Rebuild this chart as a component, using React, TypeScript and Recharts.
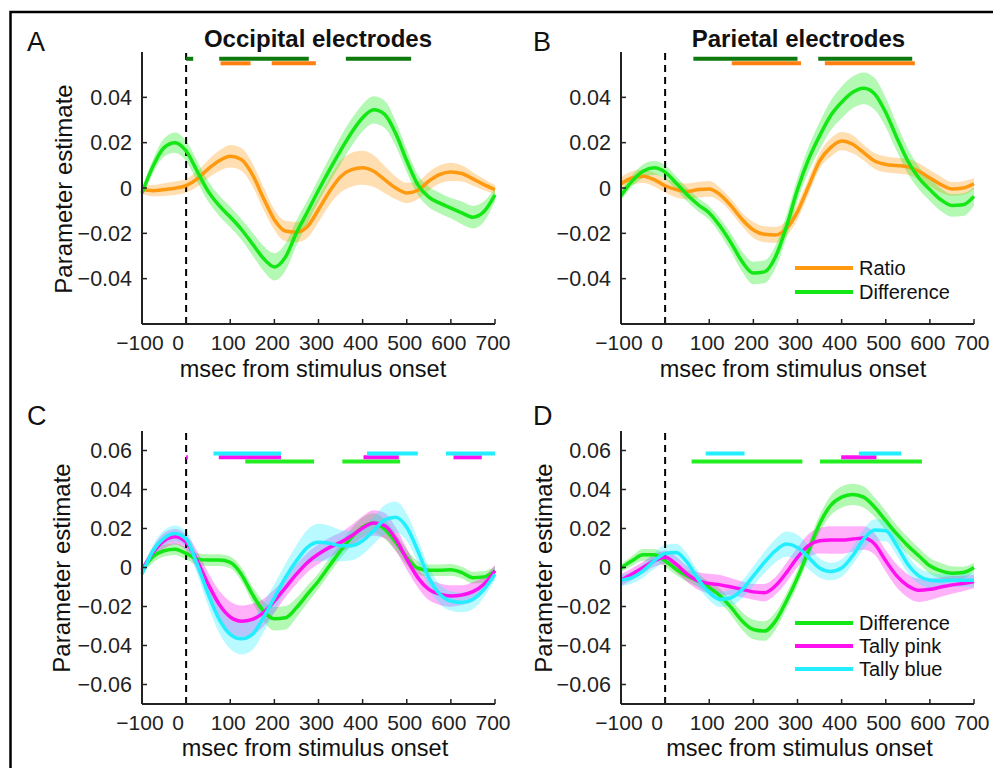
import { ComposedChart, Area, Line, XAxis, YAxis, ReferenceLine, Legend } from "recharts";

// time points (msec from stimulus onset)
const TIMES = [-100, -75, -50, -25, 0, 25, 50, 75, 100, 125, 150, 175, 200, 225, 250, 275, 300, 325, 350, 375, 400, 425, 450, 475, 500, 525, 550, 575, 600, 625, 650, 675, 700];
const X_TICKS = [-100, 0, 100, 200, 300, 400, 500, 600, 700];
const Y_TICKS_TOP = [-0.04, -0.02, 0, 0.02, 0.04];
const Y_TICKS_BOTTOM = [-0.06, -0.04, -0.02, 0, 0.02, 0.04, 0.06];

// A: occipital, ratio vs difference
const occRatio = [-0.0007, -0.0012, -0.0007, -0.0001, 0.001, 0.004, 0.0084, 0.012, 0.014, 0.0126, 0.006, -0.0044, -0.014, -0.019, -0.0195, -0.017, -0.0095, -0.0015, 0.005, 0.0081, 0.0089, 0.0074, 0.0037, 0, -0.0022, -0.001, 0.003, 0.006, 0.0071, 0.0064, 0.004, 0.0015, -0.0007];
const occRatioErr = [0.002, 0.0025, 0.0028, 0.003, 0.003, 0.0035, 0.004, 0.0045, 0.005, 0.005, 0.005, 0.005, 0.0045, 0.0045, 0.0045, 0.005, 0.0055, 0.006, 0.007, 0.0075, 0.0075, 0.007, 0.006, 0.005, 0.0045, 0.004, 0.004, 0.004, 0.004, 0.0035, 0.003, 0.0025, 0.002];
const occDiff = [-0.0022, 0.0096, 0.0178, 0.02, 0.0163, 0.0074, -0.0015, -0.0078, -0.0128, -0.0182, -0.0246, -0.031, -0.0348, -0.0305, -0.0198, -0.0105, -0.001, 0.008, 0.0165, 0.0245, 0.031, 0.0345, 0.0325, 0.024, 0.012, 0.0015, -0.004, -0.0067, -0.0089, -0.011, -0.0129, -0.0104, -0.003];
const occDiffErr = [0.002, 0.003, 0.004, 0.0045, 0.0045, 0.0045, 0.0045, 0.0045, 0.0045, 0.0045, 0.005, 0.0055, 0.006, 0.006, 0.0055, 0.005, 0.005, 0.0055, 0.006, 0.006, 0.006, 0.006, 0.006, 0.0055, 0.005, 0.0045, 0.0045, 0.0045, 0.0045, 0.005, 0.005, 0.0045, 0.003];

// B: parietal, ratio vs difference
const parRatio = [0.0019, 0.0044, 0.0052, 0.0037, 0.001, -0.0007, -0.0015, -0.0007, -0.0004, -0.003, -0.008, -0.014, -0.0185, -0.0204, -0.0207, -0.0178, -0.0104, 0.0007, 0.0119, 0.0178, 0.0207, 0.0193, 0.0156, 0.0119, 0.0104, 0.0099, 0.0093, 0.0074, 0.0044, 0.0015, -0.0004, 0, 0.0019];
const parRatioErr = [0.003, 0.003, 0.003, 0.003, 0.003, 0.0035, 0.0035, 0.0035, 0.0035, 0.003, 0.003, 0.003, 0.0035, 0.0035, 0.0035, 0.0035, 0.0035, 0.0035, 0.0035, 0.004, 0.004, 0.004, 0.0035, 0.0035, 0.0035, 0.0035, 0.0035, 0.0035, 0.0035, 0.0035, 0.003, 0.003, 0.0025];
const parDiff = [-0.0034, 0.003, 0.0074, 0.0089, 0.007, 0.0022, -0.003, -0.0074, -0.011, -0.017, -0.0244, -0.0326, -0.0375, -0.037, -0.0304, -0.017, -0.0007, 0.0126, 0.023, 0.0319, 0.0378, 0.0422, 0.044, 0.0415, 0.0333, 0.0222, 0.0119, 0.0044, -0.0007, -0.0052, -0.0077, -0.0074, -0.0037];
const parDiffErr = [0.002, 0.0025, 0.003, 0.003, 0.003, 0.003, 0.003, 0.003, 0.003, 0.0035, 0.004, 0.0045, 0.005, 0.005, 0.005, 0.005, 0.005, 0.0055, 0.006, 0.0065, 0.007, 0.007, 0.007, 0.007, 0.0065, 0.006, 0.0055, 0.005, 0.005, 0.005, 0.005, 0.005, 0.004];

// C: occipital, difference vs tallies
const occTDiff = [-0.0014, 0.0055, 0.0086, 0.0094, 0.0072, 0.0043, 0.0038, 0.0038, 0.0026, -0.0034, -0.0137, -0.0223, -0.0263, -0.0258, -0.0206, -0.0137, -0.0069, 0.0009, 0.0086, 0.0155, 0.0206, 0.0228, 0.0197, 0.0129, 0.0052, -0.0003, -0.0014, -0.0014, -0.0012, -0.0026, -0.0052, -0.0048, -0.0017];
const occTDiffErr = [0.002, 0.003, 0.003, 0.003, 0.003, 0.003, 0.003, 0.003, 0.003, 0.0035, 0.004, 0.005, 0.006, 0.006, 0.005, 0.0045, 0.004, 0.004, 0.004, 0.0045, 0.005, 0.005, 0.005, 0.0045, 0.004, 0.0035, 0.003, 0.003, 0.003, 0.003, 0.003, 0.003, 0.0025];
const occPink = [-0.0014, 0.0077, 0.0137, 0.0158, 0.0129, 0.0034, -0.0086, -0.0189, -0.0254, -0.0275, -0.0266, -0.0232, -0.0172, -0.0103, -0.0034, 0.0026, 0.0069, 0.0103, 0.0129, 0.0163, 0.0203, 0.0228, 0.0215, 0.0146, 0.0043, -0.0052, -0.0112, -0.0137, -0.0146, -0.0141, -0.0124, -0.0086, -0.0017];
const occPinkErr = [0.002, 0.003, 0.004, 0.004, 0.004, 0.005, 0.006, 0.007, 0.008, 0.008, 0.008, 0.007, 0.006, 0.005, 0.005, 0.005, 0.005, 0.005, 0.005, 0.0055, 0.006, 0.0065, 0.0065, 0.006, 0.0055, 0.005, 0.0055, 0.0055, 0.0055, 0.005, 0.005, 0.004, 0.003];
const occBlue = [-0.0034, 0.0086, 0.0151, 0.0175, 0.0146, 0.0017, -0.0137, -0.0266, -0.0343, -0.0366, -0.0343, -0.0258, -0.0155, -0.0052, 0.0034, 0.0103, 0.0129, 0.0124, 0.0112, 0.0112, 0.0137, 0.0189, 0.0244, 0.0258, 0.0206, 0.0086, -0.0052, -0.0137, -0.0172, -0.018, -0.0163, -0.0112, -0.0034];
const occBlueErr = [0.002, 0.003, 0.004, 0.004, 0.004, 0.005, 0.006, 0.007, 0.0075, 0.008, 0.008, 0.0075, 0.007, 0.007, 0.008, 0.009, 0.0095, 0.009, 0.008, 0.0075, 0.007, 0.007, 0.0075, 0.008, 0.007, 0.006, 0.0055, 0.005, 0.005, 0.005, 0.005, 0.004, 0.003];

// D: parietal, difference vs tallies
const parTDiff = [-0.0003, 0.0034, 0.0065, 0.0065, 0.0034, -0.0009, -0.0043, -0.0069, -0.0103, -0.0146, -0.0206, -0.0275, -0.0318, -0.0326, -0.0275, -0.0172, -0.0052, 0.0086, 0.0223, 0.0318, 0.0361, 0.0375, 0.0361, 0.0309, 0.024, 0.0172, 0.0112, 0.006, 0.0009, -0.0017, -0.0029, -0.0026, 0];
const parTDiffErr = [0.002, 0.0025, 0.003, 0.003, 0.003, 0.003, 0.003, 0.003, 0.003, 0.0035, 0.004, 0.0045, 0.005, 0.005, 0.0045, 0.004, 0.004, 0.004, 0.0045, 0.005, 0.0055, 0.0055, 0.0055, 0.005, 0.005, 0.0045, 0.0045, 0.004, 0.004, 0.004, 0.0035, 0.003, 0.0025];
const parPink = [-0.0065, -0.0034, 0, 0.0034, 0.0052, 0.0017, -0.0034, -0.0069, -0.0082, -0.0089, -0.01, -0.0112, -0.0125, -0.0129, -0.0094, -0.0026, 0.0052, 0.0112, 0.0137, 0.0141, 0.0141, 0.0146, 0.0151, 0.012, 0.0034, -0.0043, -0.0094, -0.0117, -0.0112, -0.01, -0.0089, -0.0082, -0.0072];
const parPinkErr = [0.003, 0.003, 0.003, 0.003, 0.0035, 0.004, 0.004, 0.0045, 0.005, 0.005, 0.0045, 0.004, 0.004, 0.0045, 0.0045, 0.005, 0.005, 0.006, 0.0065, 0.007, 0.007, 0.0065, 0.006, 0.0055, 0.0055, 0.006, 0.006, 0.006, 0.0055, 0.005, 0.0045, 0.004, 0.0035];
const parBlue = [-0.0065, -0.0052, -0.0017, 0.0034, 0.0072, 0.0077, 0.0026, -0.006, -0.0129, -0.0163, -0.0155, -0.0112, -0.0043, 0.0026, 0.0086, 0.012, 0.0103, 0.0052, -0.0003, -0.0021, -0.0003, 0.006, 0.0146, 0.0192, 0.0189, 0.0112, 0.0017, -0.0043, -0.0065, -0.0069, -0.0065, -0.0065, -0.0065];
const parBlueErr = [0.003, 0.003, 0.0035, 0.004, 0.0045, 0.0045, 0.0045, 0.004, 0.004, 0.004, 0.004, 0.0045, 0.005, 0.0055, 0.006, 0.0065, 0.0065, 0.006, 0.005, 0.0045, 0.0045, 0.0045, 0.005, 0.0055, 0.0055, 0.005, 0.0045, 0.004, 0.004, 0.0035, 0.0035, 0.0035, 0.0035];

// significant time windows [start, end] in msec
const occDiffSig = [[0, 16], [75, 278], [362, 510]];
const occRatioSig = [[78, 146], [194, 294]];
const parDiffSig = [[64, 300], [347, 560]];
const parRatioSig = [[151, 308], [362, 566]];
const occBlueSig = [[62, 215], [410, 525], [589, 700]];
const occPinkSig = [[0, 4], [74, 215], [402, 482], [606, 670]];
const occTDiffSig = [[134, 290], [354, 485]];
const parBlueSig = [[92, 180], [439, 535]];
const parPinkSig = [[399, 479]];
const parTDiffSig = [[60, 311], [351, 582]];

const FONT = '"Liberation Sans", Arial, Helvetica, sans-serif';
const ORANGE = "#FF9A10";
const ORANGE_SIG = "#FF7F10";
const GREEN = "#14E814";
const DARK_GREEN = "#0E7A0E";
const BRIGHT_GREEN = "#22EE22";
const PINK = "#FF10F0";
const BLUE = "#22EEFF";

const fmtMinus = (s: string) => s.replace("-", "\u2212");

function XTick(props: any) {
  const { x, y, payload } = props;
  const v = payload.value;
  const dx = v === 0 ? -8 : -2;
  return (
    <g>
      <line x1={x} x2={x} y1={y} y2={y - 5} stroke="#222" strokeWidth={1.5} />
      <text x={x + dx} y={y + 26} textAnchor="middle" fontSize={21} fontFamily={FONT} fill="#222">
        {fmtMinus(String(v))}
      </text>
    </g>
  );
}

function YTick(props: any) {
  const { x, y, payload } = props;
  const v = payload.value;
  const label = v === 0 ? "0" : fmtMinus(v.toFixed(2));
  return (
    <g>
      <line x1={x} x2={x + 5} y1={y} y2={y} stroke="#222" strokeWidth={1.5} />
      <text x={x - 10} y={y + 7.6} textAnchor="end" fontSize={21.5} fontFamily={FONT} fill="#222">
        {label}
      </text>
    </g>
  );
}

function LegendBox(props: any) {
  const order: string[] = props.order;
  const items = (props.payload || [])
    .filter((p: any) => p.type !== "none" && order.includes(p.value))
    .sort((a: any, b: any) => order.indexOf(a.value) - order.indexOf(b.value));
  return (
    <div style={{ fontFamily: FONT }}>
      {items.map((p: any) => (
        <div key={p.value} style={{ display: "flex", alignItems: "center", height: props.rowH }}>
          <svg width={58} height={6} style={{ display: "block" }}>
            <line x1={0} x2={58} y1={3} y2={3} stroke={p.color} strokeWidth={4} />
          </svg>
          <span style={{ marginLeft: 6, fontSize: 20, color: "#111", lineHeight: "20px" }}>{p.value}</span>
        </div>
      ))}
    </div>
  );
}

function Panel(props: any) {
  const { left, top, width, height, marginTop, marginRight, domain, yTicks, series, bars, legend } = props;
  const rows = TIMES.map((t, i) => {
    const r: any = { t };
    series.forEach((s: any) => {
      r[s.key] = s.values[i];
      r[s.key + "Band"] = [s.values[i] - s.errs[i], s.values[i] + s.errs[i]];
    });
    return r;
  });
  const order = series.map((s: any) => s.name);
  return (
    <div style={{ position: "absolute", left, top }}>
      <ComposedChart width={width} height={height} data={rows} margin={{ top: marginTop, right: marginRight, bottom: 26, left: 0 }}>
        <XAxis
          dataKey="t"
          type="number"
          domain={[-100, 700]}
          ticks={X_TICKS}
          height={40}
          tickSize={0}
          tickMargin={0}
          tickLine={false}
          axisLine={{ stroke: "#222", strokeWidth: 2 }}
          tick={<XTick />}
          interval={0}
        />
        <YAxis
          type="number"
          domain={domain}
          ticks={yTicks}
          width={142}
          tickSize={0}
          tickMargin={0}
          tickLine={false}
          axisLine={{ stroke: "#222", strokeWidth: 2 }}
          tick={<YTick />}
          interval={0}
        />
        <ReferenceLine x={0} stroke="#000" strokeWidth={2} strokeDasharray="7 5" />
        {series.flatMap((s: any) => [
          <Area
            key={s.key + "Band"}
            type="monotone"
            dataKey={s.key + "Band"}
            fill={s.color}
            fillOpacity={0.32}
            stroke="none"
            legendType="none"
            activeDot={false}
            isAnimationActive={false}
          />,
          <Line
            key={s.key}
            type="monotone"
            dataKey={s.key}
            name={s.name}
            stroke={s.color}
            strokeWidth={3.5}
            dot={false}
            activeDot={false}
            isAnimationActive={false}
          />,
        ])}
        {bars.flatMap((b: any, bi: number) =>
          b.spans.map((sp: number[], si: number) => (
            <ReferenceLine
              key={`bar-${bi}-${si}`}
              segment={[{ x: sp[0], y: b.level }, { x: sp[1], y: b.level }]}
              stroke={b.color}
              strokeWidth={4}
            />
          ))
        )}
        {legend && (
          <Legend
            layout="vertical"
            align="center"
            verticalAlign="middle"
            wrapperStyle={{ left: legend.left, top: legend.top, width: 190 }}
            content={(p: any) => <LegendBox payload={p.payload} rowH={legend.rowH} order={order} />}
          />
        )}
      </ComposedChart>
    </div>
  );
}

export default function App() {
  const txt = { fontFamily: FONT, fill: "#111" };
  return (
    <div style={{ position: "absolute", left: 0, top: 0, width: 993, height: 768, overflow: "hidden", background: "#fff" }}>
      <Panel
        left={0}
        top={0}
        width={520}
        height={390}
        marginTop={52}
        marginRight={25}
        domain={[-0.06, 0.06]}
        yTicks={Y_TICKS_TOP}
        series={[
          { key: "ratio", name: "Ratio", color: ORANGE, values: occRatio, errs: occRatioErr },
          { key: "diff", name: "Difference", color: GREEN, values: occDiff, errs: occDiffErr },
        ]}
        bars={[
          { color: ORANGE_SIG, level: 0.055, spans: occRatioSig },
          { color: DARK_GREEN, level: 0.057, spans: occDiffSig },
        ]}
      />
      <Panel
        left={479}
        top={0}
        width={514}
        height={390}
        marginTop={52}
        marginRight={19}
        domain={[-0.06, 0.06]}
        yTicks={Y_TICKS_TOP}
        series={[
          { key: "ratio", name: "Ratio", color: ORANGE, values: parRatio, errs: parRatioErr },
          { key: "diff", name: "Difference", color: GREEN, values: parDiff, errs: parDiffErr },
        ]}
        bars={[
          { color: ORANGE_SIG, level: 0.055, spans: parRatioSig },
          { color: DARK_GREEN, level: 0.057, spans: parDiffSig },
        ]}
        legend={{ left: 316, top: 256, rowH: 24 }}
      />
      <Panel
        left={0}
        top={380}
        width={520}
        height={390}
        marginTop={51}
        marginRight={25}
        domain={[-0.07, 0.07]}
        yTicks={Y_TICKS_BOTTOM}
        series={[
          { key: "diff", name: "Difference", color: GREEN, values: occTDiff, errs: occTDiffErr },
          { key: "pink", name: "Tally pink", color: PINK, values: occPink, errs: occPinkErr },
          { key: "blue", name: "Tally blue", color: BLUE, values: occBlue, errs: occBlueErr },
        ]}
        bars={[
          { color: BRIGHT_GREEN, level: 0.0544, spans: occTDiffSig },
          { color: PINK, level: 0.0565, spans: occPinkSig },
          { color: BLUE, level: 0.0584, spans: occBlueSig },
        ]}
      />
      <Panel
        left={479}
        top={380}
        width={514}
        height={390}
        marginTop={51}
        marginRight={19}
        domain={[-0.07, 0.07]}
        yTicks={Y_TICKS_BOTTOM}
        series={[
          { key: "diff", name: "Difference", color: GREEN, values: parTDiff, errs: parTDiffErr },
          { key: "pink", name: "Tally pink", color: PINK, values: parPink, errs: parPinkErr },
          { key: "blue", name: "Tally blue", color: BLUE, values: parBlue, errs: parBlueErr },
        ]}
        bars={[
          { color: BRIGHT_GREEN, level: 0.0544, spans: parTDiffSig },
          { color: PINK, level: 0.0565, spans: parPinkSig },
          { color: BLUE, level: 0.0584, spans: parBlueSig },
        ]}
        legend={{ left: 316, top: 231, rowH: 23 }}
      />
      <svg width={993} height={768} style={{ position: "absolute", left: 0, top: 0, pointerEvents: "none" }}>
        <path d="M10.5 780 V12 H1000" fill="none" stroke="#000" strokeWidth={2.5} />
        <text x={27} y={50.7} fontSize={27} {...txt}>A</text>
        <text x={533} y={50.7} fontSize={27} {...txt}>B</text>
        <text x={27} y={425} fontSize={27} {...txt}>C</text>
        <text x={533} y={425} fontSize={27} {...txt}>D</text>
        <text x={318} y={46.7} fontSize={24} fontWeight="bold" textAnchor="middle" {...txt}>Occipital electrodes</text>
        <text x={798.5} y={46.7} fontSize={24} fontWeight="bold" textAnchor="middle" {...txt}>Parietal electrodes</text>
        <text x={313} y={376.5} fontSize={23.5} textAnchor="middle" {...txt}>msec from stimulus onset</text>
        <text x={793} y={376.5} fontSize={23.5} textAnchor="middle" {...txt}>msec from stimulus onset</text>
        <text x={315} y={756} fontSize={23.5} textAnchor="middle" {...txt}>msec from stimulus onset</text>
        <text x={799.5} y={756} fontSize={23.5} textAnchor="middle" {...txt}>msec from stimulus onset</text>
        <text transform="translate(72,189) rotate(-90)" fontSize={24} textAnchor="middle" {...txt}>Parameter estimate</text>
        <text transform="translate(70,568) rotate(-90)" fontSize={24} textAnchor="middle" {...txt}>Parameter estimate</text>
        <text transform="translate(552,568) rotate(-90)" fontSize={24} textAnchor="middle" {...txt}>Parameter estimate</text>
      </svg>
    </div>
  );
}
